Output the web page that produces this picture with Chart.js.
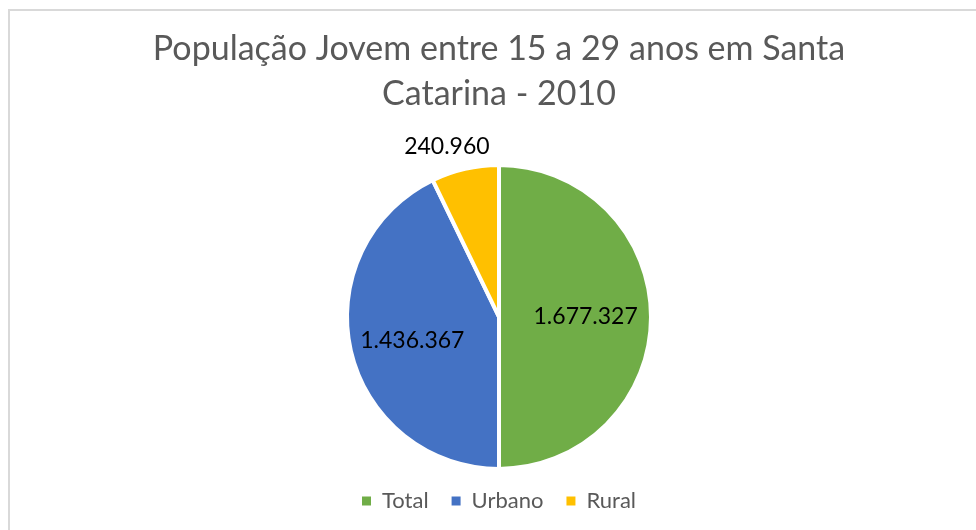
<!DOCTYPE html>
<html>
<head>
<meta charset="utf-8">
<script src="https://cdn.jsdelivr.net/npm/chart.js@4"></script>
<style>
  html, body { margin: 0; padding: 0; background: #fff; }
  #wrap { position: relative; width: 976px; height: 530px; overflow: hidden; }
  #frame { position: absolute; left: 8px; top: 9px; width: 1200px; height: 800px;
           border-left: 2px solid #d9d9d9; border-top: 2px solid #d9d9d9; }
  canvas { position: absolute; left: 0; top: 0; }
</style>
</head>
<body>
<div id="wrap">
  <div id="frame"></div>
  <canvas id="chart" width="976" height="530"></canvas>
</div>
<script>
const TITLE_LINES = ['População Jovem entre 15 a 29 anos em Santa', 'Catarina - 2010'];
const CATEGORIES = ['Total', 'Urbano', 'Rural'];
const VALUES = [1677327, 1436367, 240960];
const VALUE_LABELS = ['1.677.327', '1.436.367', '240.960'];
const COLORS = ['#70ad47', '#4472c4', '#ffc000'];
// label placement: distance from centre (share of radius) and small nudges
const LABEL_DIST = [0.57, 0.585, 1.15];
const LABEL_NUDGE_X = [0, 0, -13];
const LABEL_NUDGE_Y = [0, 4, 0];

const FONT = 'Lato, "Open Sans", sans-serif';

const valueLabels = {
  id: 'valueLabels',
  afterDatasetsDraw(chart) {
    const ctx = chart.ctx;
    const meta = chart.getDatasetMeta(0);
    ctx.save();
    ctx.font = '23px ' + FONT;
    ctx.fillStyle = '#000';
    ctx.textAlign = 'center';
    ctx.textBaseline = 'middle';
    meta.data.forEach((arc, i) => {
      const p = arc.getProps(['x', 'y', 'startAngle', 'endAngle', 'outerRadius']);
      const mid = (p.startAngle + p.endAngle) / 2;
      const r = p.outerRadius * LABEL_DIST[i];
      ctx.fillText(VALUE_LABELS[i],
        p.x + Math.cos(mid) * r + LABEL_NUDGE_X[i],
        p.y + Math.sin(mid) * r + LABEL_NUDGE_Y[i]);
    });
    ctx.restore();
  }
};

new Chart(document.getElementById('chart'), {
  type: 'pie',
  data: {
    labels: CATEGORIES,
    datasets: [{
      data: VALUES,
      backgroundColor: COLORS,
      borderColor: '#fff',
      borderWidth: 4,
      radius: 152
    }]
  },
  options: {
    responsive: false,
    animation: false,
    layout: { padding: { top: 27, bottom: 8, left: 22 } },
    plugins: {
      title: {
        display: true,
        text: TITLE_LINES,
        color: '#595959',
        font: { family: FONT, size: 34, weight: 'normal', lineHeight: 1.32 },
        padding: { top: 0, bottom: 50 }
      },
      legend: {
        position: 'bottom',
        labels: {
          color: '#595959',
          font: { family: FONT, size: 22 },
          boxWidth: 9,
          boxHeight: 9,
          padding: 23,
          // plain squares, without the white slice border
          generateLabels: (chart) =>
            Chart.overrides.pie.plugins.legend.labels.generateLabels(chart)
              .map(item => ({ ...item, lineWidth: 0 }))
        }
      },
      tooltip: { enabled: false }
    }
  },
  plugins: [valueLabels]
});
</script>
</body>
</html>
